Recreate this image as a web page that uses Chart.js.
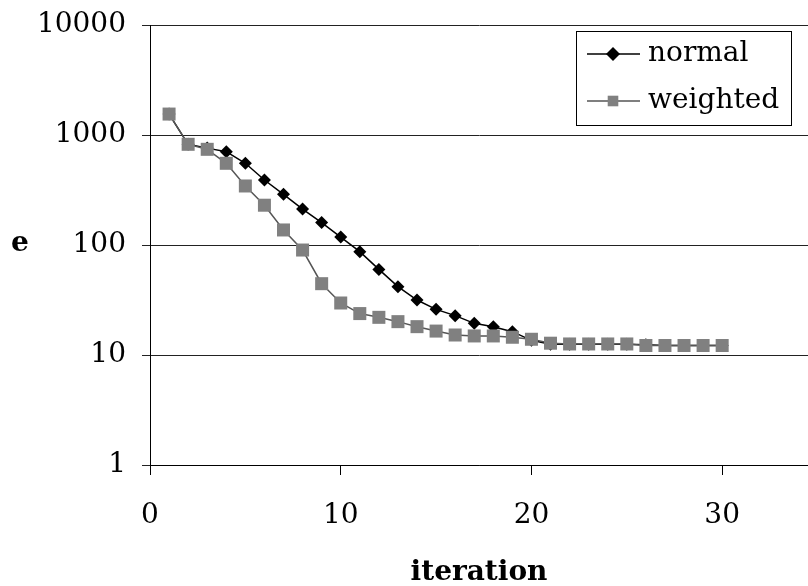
<!DOCTYPE html>
<html>
<head>
<meta charset="utf-8">
<script src="https://cdn.jsdelivr.net/npm/chart.js@4.4.1/dist/chart.umd.min.js"></script>
<style>
html,body{margin:0;padding:0;background:#fff;overflow:hidden}
</style>
</head>
<body>
<canvas id="grafico" width="808" height="586"></canvas>
<script>

const iteracoes = [1,2,3,4,5,6,7,8,9,10,11,12,13,14,15,16,17,18,19,20,21,22,23,24,25,26,27,28,29,30];

const normal = [1550,823,760,705,553,390,289,212,160,118,87,60,41.8,31.6,26,22.8,19.4,18.1,16.3,13.6,12.5,12.5,12.5,12.5,12.5,12.4,12.2,12.2,12.2,12.2];

const weighted = [1550,823,741,553,344,230,137,90,44.5,29.7,23.8,22,20.1,18.1,16.5,15.2,14.9,14.9,14.5,13.9,12.8,12.6,12.6,12.6,12.6,12.2,12.2,12.2,12.2,12.2];

const xTicks = [0,10,20,30];
const yTicks = [1,10,100,1000,10000];

const fonte = "'DejaVu Serif', serif";


// legend box inside the plot + the unrotated "e" label
const extras = {
id:"extras",
afterDraw(chart){

const c = chart.ctx;
c.save();

c.fillStyle="#fff";
c.fillRect(576.5,31.5,215,94);
c.strokeStyle="#000";
c.lineWidth=1;
c.strokeRect(576.5,31.5,215,94);

chart.data.datasets.forEach((ds,i)=>{

const y = 54 + i*47;

c.strokeStyle = ds.borderColor;
c.lineWidth = ds.borderWidth;
c.beginPath();
c.moveTo(587,y);
c.lineTo(640,y);
c.stroke();

c.fillStyle = ds.pointBackgroundColor;
c.strokeStyle = ds.pointBackgroundColor;
Chart.helpers.drawPoint(c,{pointStyle:ds.pointStyle,radius:ds.legendRadius,borderWidth:0,rotation:0},613,y);

c.fillStyle="#000";
c.font="28px "+fonte;
c.textAlign="left";
c.textBaseline="middle";
c.fillText(ds.label,648,y);

});

c.font="bold 28px "+fonte;
c.textAlign="center";
c.textBaseline="middle";
c.fillStyle="#000";
c.fillText("e",20,244);

c.restore();

}
};


const ctx = document.getElementById("grafico");

let grafico = new Chart(ctx,{

type:"line",

data:{

datasets:[
{
label:"normal",
data:iteracoes.map((x,i)=>({x:x,y:normal[i]})),
borderColor:"#000",
borderWidth:1.5,
pointStyle:"rectRot",
pointRadius:6.5,
legendRadius:7,
pointBackgroundColor:"#000",
pointBorderColor:"#000",
pointBorderWidth:0,
order:1
},
{
label:"weighted",
data:iteracoes.map((x,i)=>({x:x,y:weighted[i]})),
borderColor:"#555",
borderWidth:1.5,
pointStyle:"rect",
pointRadius:9.2,
legendRadius:7.5,
pointBackgroundColor:"#808080",
pointBorderColor:"#808080",
pointBorderWidth:0,
order:0
}
]

},

options:{

responsive:false,
animation:false,
events:[],

layout:{autoPadding:false,padding:{top:25,right:0,bottom:0,left:0}},

plugins:{
legend:{display:false},
tooltip:{enabled:false}
},

scales:{

x:{
type:"linear",
min:0,
max:34.5,
afterFit(s){ s.height = 121; s.paddingLeft = 0; s.paddingRight = 0; },
afterBuildTicks(s){ s.ticks = xTicks.map(v=>({value:v})); },
ticks:{
font:{family:fonte,size:28},
color:"#000",
padding:24,
maxRotation:0,
includeBounds:false
},
grid:{
drawOnChartArea:false,
drawTicks:true,
tickLength:10,
color:"#000"
},
border:{color:"#000",width:1},
title:{
display:true,
text:"iteration",
font:{family:fonte,size:28,weight:"bold",lineHeight:1.2},
color:"#000",
padding:{top:0,bottom:-4}
}
},

y:{
type:"logarithmic",
min:1,
max:10000,
afterFit(s){ s.width = 150; s.paddingTop = 0; s.paddingBottom = 0; },
afterBuildTicks(s){ s.ticks = yTicks.map(v=>({value:v})); },
ticks:{
font:{family:fonte,size:28},
color:"#000",
padding:16,
callback:v=>String(v)
},
grid:{
color:"#222",
lineWidth:1,
tickLength:8
},
border:{color:"#000",width:1}
}

}

},

plugins:[extras]

});

</script>
</body>
</html>
